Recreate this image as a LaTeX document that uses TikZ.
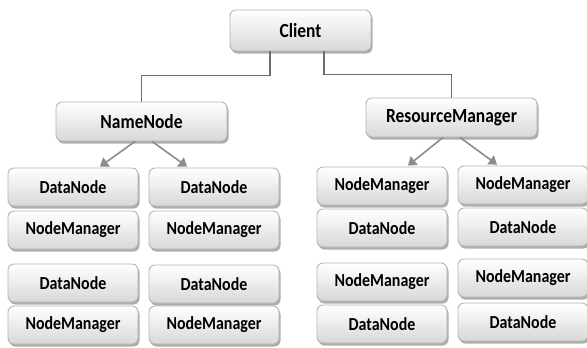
\documentclass[tikz,border=0pt]{standalone}
\usepackage{fontspec}
\setmainfont{Carlito}
\usetikzlibrary{arrows.meta,shadows,shadings}

\definecolor{boxline}{HTML}{B4B4B4}
\definecolor{boxtop}{HTML}{FFFFFF}
\definecolor{boxbot}{HTML}{D8D8D8}
\definecolor{wire}{HTML}{6E6E6E}
\definecolor{arrowgray}{HTML}{8C8C8C}

% labels are set slightly taller than the font's own proportions
\newcommand{\tall}[1]{\scalebox{1}[1.15]{#1}}

\tikzset{
  card/.style={draw=boxline, line width=0.9bp, rounded corners=6bp,
    top color=boxtop, bottom color=boxbot,
    drop shadow={shadow xshift=1.5bp, shadow yshift=-2.5bp, fill=black!40, opacity=0.8},
    inner sep=0pt, minimum width=130bp, minimum height=38bp,
    font=\bfseries\fontsize{16}{18}\selectfont, text=black},
  bigcard/.style={card, font=\bfseries\fontsize{17.5}{20}\selectfont},
  wireline/.style={draw=wire, line width=1.1bp},
  flowarrow/.style={draw=arrowgray, line width=1.6bp,
    -{Triangle[width=11bp,length=8bp]}},
}

\begin{document}
\begin{tikzpicture}[x=1bp,y=-1bp]
  \useasboundingbox (0,0) rectangle (587,347);

  % top level
  \node[bigcard, minimum width=141bp, minimum height=41bp] (client) at (300.5,30.5) {\tall{Client}};
  \node[bigcard, minimum width=171bp, minimum height=39bp] (namenode) at (141.5,121.5) {\tall{NameNode}};
  \node[bigcard, minimum width=171bp, minimum height=39bp] (resmgr) at (451.5,117.5) {\tall{ResourceManager}};

  % HDFS side: two columns of worker boxes
  \node[card] (dnA) at (73,187) {\tall{DataNode}};
  \node[card] (nmA) at (73,230) {\tall{NodeManager}};
  \node[card] (dnB) at (73,283) {\tall{DataNode}};
  \node[card] (nmB) at (73,325) {\tall{NodeManager}};

  \node[card] (dnC) at (214,187) {\tall{DataNode}};
  \node[card] (nmC) at (214,230) {\tall{NodeManager}};
  \node[card] (dnD) at (214,284) {\tall{DataNode}};
  \node[card] (nmD) at (214,325) {\tall{NodeManager}};

  % YARN side: two columns of worker boxes
  \node[card] (nmE) at (382,186) {\tall{NodeManager}};
  \node[card] (dnE) at (382,228) {\tall{DataNode}};
  \node[card] (nmF) at (382,282) {\tall{NodeManager}};
  \node[card] (dnF) at (382,324) {\tall{DataNode}};

  \node[card] (nmG) at (523,185) {\tall{NodeManager}};
  \node[card] (dnG) at (523,227) {\tall{DataNode}};
  \node[card] (nmH) at (523,278) {\tall{NodeManager}};
  \node[card] (dnH) at (523,322) {\tall{DataNode}};

  % client links
  \draw[wireline] ([xshift=-30.5bp]client.south) -- ++(0,24) -| (namenode.north);
  \draw[wireline] ([xshift=23.5bp]client.south) -- ++(0,23) -| (resmgr.north);

  % arrows down to the workers
  \draw[flowarrow] ([xshift=-6.5bp]namenode.south) -- ([xshift=27bp,yshift=1bp]dnA.north);
  \draw[flowarrow] ([xshift=10.5bp]namenode.south) -- ([xshift=-27bp,yshift=1bp]dnC.north);
  \draw[flowarrow] ([xshift=-8.5bp]resmgr.south) -- ([xshift=26bp,yshift=1bp]nmE.north);
  \draw[flowarrow] ([xshift=8.5bp]resmgr.south) -- ([xshift=-26bp,yshift=1bp]nmG.north);
\end{tikzpicture}
\end{document}
